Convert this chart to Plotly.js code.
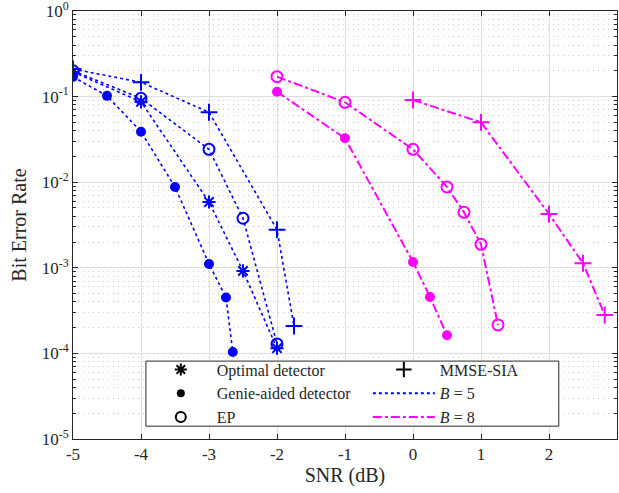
<!DOCTYPE html>
<html><head><meta charset="utf-8">
<script src="https://cdn.plot.ly/plotly-3.0.1.min.js"></script>
<style>html,body{margin:0;padding:0;background:#fff}#chart{width:619px;height:493px}</style>
</head><body><div id="chart"></div>
<script>
// B = 5
const snrB5Opt = [-5, -4, -3, -2.5, -2];
const berB5Opt = [0.194, 0.087, 0.00587, 0.00092, 0.000115];
const snrB5Genie = [-5, -4.5, -4, -3.5, -3, -2.75, -2.65];
const berB5Genie = [0.17, 0.102, 0.0389, 0.0088, 0.00111, 0.00045, 0.000104];
const snrB5EP = [-5, -4, -3, -2.5, -2];
const berB5EP = [0.2, 0.0955, 0.0242, 0.00379, 0.000129];
const snrB5MMSE = [-5, -4, -3, -2, -1.75];
const berB5MMSE = [0.21, 0.147, 0.0656, 0.00279, 0.000209];
// B = 8
const snrB8Genie = [-2, -1, 0, 0.25, 0.5];
const berB8Genie = [0.114, 0.0326, 0.00117, 0.000456, 0.000163];
const snrB8EP = [-2, -1, 0, 0.5, 0.75, 1, 1.25];
const berB8EP = [0.171, 0.0858, 0.0242, 0.0088, 0.00445, 0.00188, 0.000215];
const snrB8MMSE = [0, 1, 2, 2.5, 2.82];
const berB8MMSE = [0.0912, 0.0501, 0.00425, 0.00113, 0.000281];

const xTickVals = [-5, -4, -3, -2, -1, 0, 1, 2, 3];
const xTickText = ['-5', '-4', '-3', '-2', '-1', '0', '1', '2', '3'];
const yTickVals = [1e-5, 1e-4, 1e-3, 1e-2, 1e-1, 1];
const yTickText = ['10<sup>-5</sup>', '10<sup>-4</sup>', '10<sup>-3</sup>', '10<sup>-2</sup>', '10<sup>-1</sup>', '10<sup>0</sup>'];

const legendNames = ['Optimal detector', 'Genie-aided detector', 'EP', 'MMSE-SIA', '<i>B</i> = 5', '<i>B</i> = 8'];

const BLUE = '#0000ff', MAG = '#ff00ff', TXT = '#262626';
const FONT = '"Times New Roman", "Liberation Serif", "DejaVu Serif", serif';

const sym = {
  opt: {symbol: 'asterisk-open', size: 11},
  genie: {symbol: 'circle', size: 8},
  ep: {symbol: 'circle-open', size: 11},
  mmse: {symbol: 'cross-thin-open', size: 12}
};

function series(x, y, color, dash, width, m) {
  return {
    x: x, y: y, type: 'scatter', mode: 'lines+markers', showlegend: false,
    line: {color: color, dash: dash, width: width},
    marker: {symbol: m.symbol, size: m.size, color: color, line: {color: color, width: 2}},
    hoverinfo: 'skip'
  };
}

const data = [
  series(snrB5Opt, berB5Opt, BLUE, 'dot', 1.6, sym.opt),
  series(snrB5Genie, berB5Genie, BLUE, 'dot', 1.6, sym.genie),
  series(snrB5EP, berB5EP, BLUE, 'dot', 1.6, sym.ep),
  series(snrB5MMSE, berB5MMSE, BLUE, 'dot', 1.6, sym.mmse),
  series(snrB8Genie, berB8Genie, MAG, 'dashdot', 2, sym.genie),
  series(snrB8EP, berB8EP, MAG, 'dashdot', 2, sym.ep),
  series(snrB8MMSE, berB8MMSE, MAG, 'dashdot', 2, sym.mmse),
  // legend entries
  {x: [null], y: [null], type: 'scatter', mode: 'markers', name: legendNames[0], legend: 'legend',
   marker: {symbol: 'asterisk-open', size: 10, color: '#000', line: {color: '#000', width: 2}}},
  {x: [null], y: [null], type: 'scatter', mode: 'markers', name: legendNames[1], legend: 'legend',
   marker: {symbol: 'circle', size: 8, color: '#000'}},
  {x: [null], y: [null], type: 'scatter', mode: 'markers', name: legendNames[2], legend: 'legend',
   marker: {symbol: 'circle-open', size: 10, color: '#000', line: {color: '#000', width: 2}}},
  {x: [null], y: [null], type: 'scatter', mode: 'markers', name: legendNames[3], legend: 'legend2',
   marker: {symbol: 'cross-thin-open', size: 11, color: '#000', line: {color: '#000', width: 2}}},
  {x: [null], y: [null], type: 'scatter', mode: 'lines', name: legendNames[4], legend: 'legend2',
   line: {color: BLUE, dash: 'dot', width: 2}},
  {x: [null], y: [null], type: 'scatter', mode: 'lines', name: legendNames[5], legend: 'legend2',
   line: {color: MAG, dash: 'dashdot', width: 2}}
];

const legendCommon = {
  bgcolor: 'rgba(0,0,0,0)', borderwidth: 0, font: {family: FONT, size: 16, color: TXT},
  orientation: 'v', xanchor: 'left', yanchor: 'top', y: 0.202, itemwidth: 62, tracegroupgap: 0
};

const layout = {
  width: 619, height: 493,
  margin: {l: 73, r: 2, t: 11, b: 54},
  paper_bgcolor: '#fff', plot_bgcolor: '#fff',
  font: {family: FONT, size: 17, color: TXT},
  showlegend: true,
  legend: Object.assign({}, legendCommon, {x: 0.132}),
  legend2: Object.assign({}, legendCommon, {x: 0.542}),
  xaxis: {
    range: [-5, 3], tickmode: 'array', tickvals: xTickVals, ticktext: xTickText,
    showline: true, linecolor: TXT, linewidth: 1, mirror: 'ticks',
    ticks: 'inside', ticklen: 5, tickcolor: TXT,
    showgrid: true, gridcolor: '#dedede', gridwidth: 1, zeroline: false,
    title: {text: 'SNR (dB)', font: {family: FONT, size: 20, color: TXT}, standoff: 3},
    tickfont: {family: FONT, size: 17, color: TXT}
  },
  yaxis: {
    type: 'log', range: [-5, 0], tickmode: 'array', tickvals: yTickVals, ticktext: yTickText,
    ticklabeloverflow: 'allow',
    showline: true, linecolor: TXT, linewidth: 1, mirror: 'ticks',
    ticks: 'inside', ticklen: 5, tickcolor: TXT,
    showgrid: true, gridcolor: '#dedede', gridwidth: 1, zeroline: false,
    minor: {dtick: 'D1', ticks: 'inside', ticklen: 3, tickcolor: TXT, showgrid: true,
            gridcolor: '#cccccc', griddash: '1px,4px', gridwidth: 1},
    title: {text: 'Bit Error Rate', font: {family: FONT, size: 20, color: TXT}, standoff: 9},
    tickfont: {family: FONT, size: 17, color: TXT}
  },
  shapes: [{
    type: 'rect', xref: 'paper', yref: 'paper', x0: 0.134, x1: 0.893, y0: 0.030, y1: 0.182,
    fillcolor: '#ffffff', line: {color: TXT, width: 1}, layer: 'above'
  }]
};

Plotly.newPlot('chart', data, layout, {displayModeBar: false, staticPlot: true});
</script>
</body></html>
